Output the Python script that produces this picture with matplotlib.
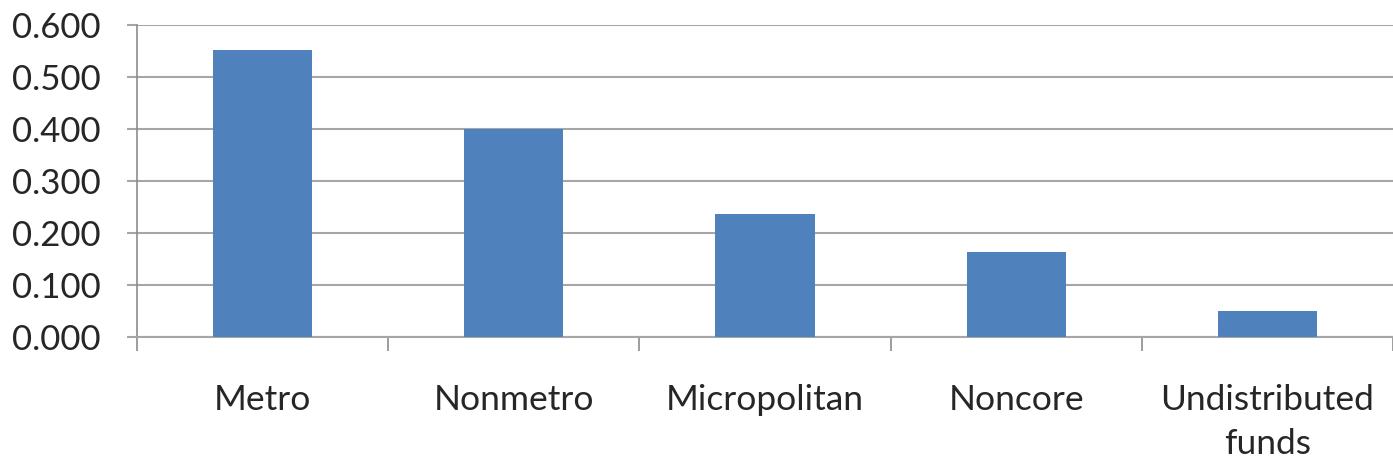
import matplotlib.pyplot as plt
import numpy as np

# data
categories = ['Metro', 'Nonmetro', 'Micropolitan', 'Noncore', 'Undistributed\nfunds']
values = [0.551, 0.400, 0.237, 0.163, 0.049]
yticks = [0.0, 0.1, 0.2, 0.3, 0.4, 0.5, 0.6]

plt.rcParams['font.family'] = ['Lato', 'DejaVu Sans']

fig = plt.figure(figsize=(13.93, 4.65), dpi=100)
ax = fig.add_axes([137/1393, 1 - 337/465, 1 - 137/1393, (337 - 24.7)/465])

x = np.arange(len(categories))
ax.bar(x, values, width=0.395, color='#4F81BD', zorder=3)

ax.set_xlim(-0.5, len(categories) - 0.5)
ax.set_ylim(0, 0.6)
ax.set_yticks(yticks)
ax.set_yticklabels(['%.3f' % v for v in yticks])
ax.yaxis.grid(True, color='#a6a6a6', linewidth=1.5, zorder=0)

# category labels centred, ticks on boundaries
ax.set_xticks(x)
ax.set_xticklabels(categories, linespacing=1.45)
ax.set_xticks(np.arange(-0.5, len(categories) - 0.4, 1), minor=True)
ax.tick_params(axis='x', which='major', length=0, pad=34, labelsize=25.5, colors='#262626')
ax.tick_params(axis='x', which='minor', length=10, width=1.2, color='#8c8c8c')
ax.tick_params(axis='y', length=7.2, width=1.5, color='#a6a6a6', pad=19,
               labelsize=25, labelcolor='#262626')

for s in ['top', 'right']:
    ax.spines[s].set_visible(False)
ax.spines['left'].set_color('#8c8c8c')
ax.spines['left'].set_linewidth(1.2)
ax.spines['bottom'].set_color('#a6a6a6')
ax.spines['bottom'].set_linewidth(1.5)

fig.savefig('out.png', dpi=100)
